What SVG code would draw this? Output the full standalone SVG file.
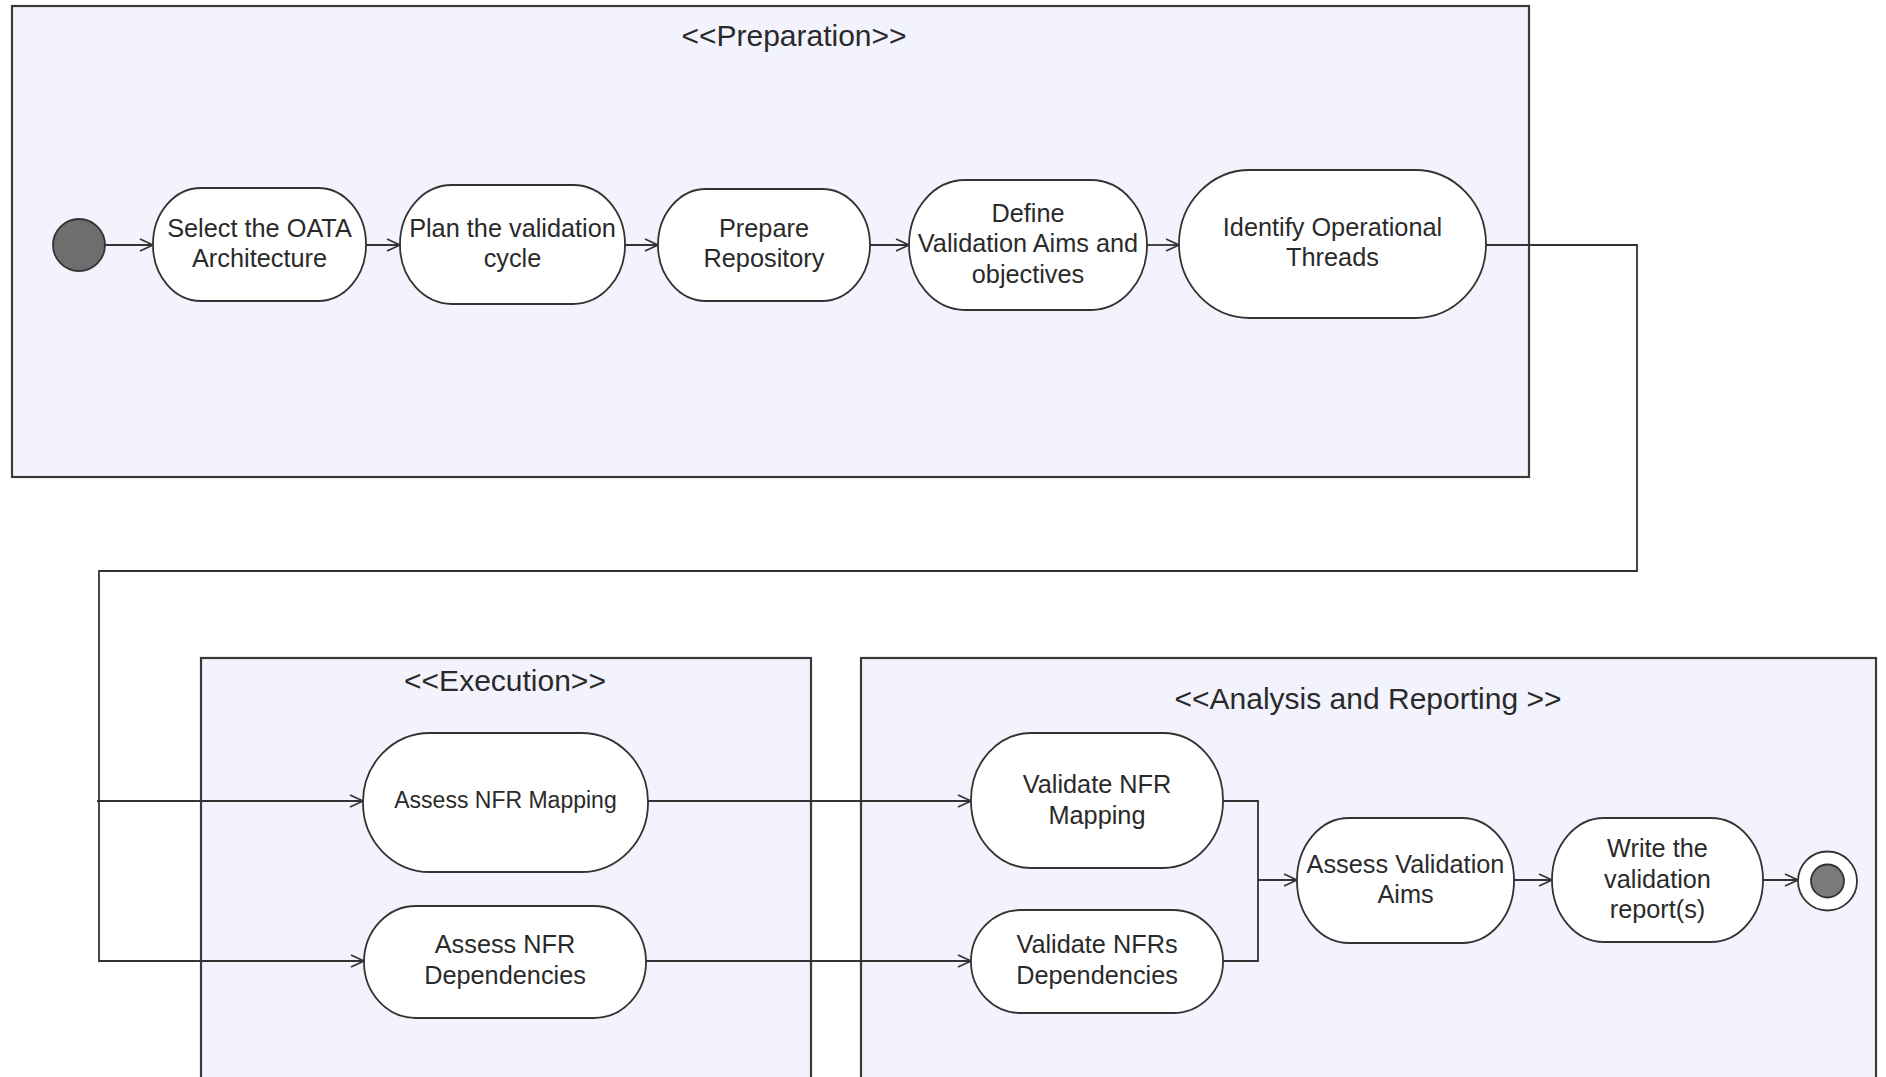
<svg xmlns="http://www.w3.org/2000/svg" width="1886" height="1077" viewBox="0 0 1886 1077">
<style>
.bg{fill:#ffffff}
.part{fill:#f3f3fd;stroke:#3a3a3a;stroke-width:2.2}
.node{fill:#ffffff;stroke:#333333;stroke-width:1.8}
.t{font-family:"Liberation Sans",Arial,sans-serif;font-size:25.3px;fill:#2a2a2a;text-anchor:middle}
.ts{font-size:23px}
.title{font-family:"Liberation Sans",Arial,sans-serif;font-size:30px;fill:#2a2a2a;text-anchor:middle}
.c{fill:none;stroke:#333333;stroke-width:1.8}
</style>
<defs>
<marker id="arr" markerUnits="userSpaceOnUse" markerWidth="16" markerHeight="14" refX="14" refY="7" orient="auto">
<path d="M1,1 L14,7 L1,13" fill="none" stroke="#333333" stroke-width="1.8"/>
</marker>
</defs>
<rect class="bg" x="0" y="0" width="1886" height="1077"/>

<g id="part-preparation">
<rect class="part" x="12" y="6" width="1517" height="471"/>
<text class="title" x="794" y="46">&lt;&lt;Preparation&gt;&gt;</text>
</g>
<g id="part-execution">
<rect class="part" x="201" y="658" width="610" height="440"/>
<text class="title" x="505" y="691">&lt;&lt;Execution&gt;&gt;</text>
</g>
<g id="part-analysis">
<rect class="part" x="861" y="658" width="1015" height="440"/>
<text class="title" x="1368" y="709">&lt;&lt;Analysis and Reporting &gt;&gt;</text>
</g>

<g id="connectors">
<line class="c" x1="105" y1="245" x2="153" y2="245" marker-end="url(#arr)"/>
<line class="c" x1="366" y1="245" x2="400" y2="245" marker-end="url(#arr)"/>
<line class="c" x1="625" y1="245" x2="658" y2="245" marker-end="url(#arr)"/>
<line class="c" x1="870" y1="245" x2="909" y2="245" marker-end="url(#arr)"/>
<line class="c" x1="1147" y1="245" x2="1179" y2="245" marker-end="url(#arr)"/>
<polyline class="c" points="1486,245 1637,245 1637,571 99,571 99,961 364,961" marker-end="url(#arr)"/>
<line class="c" x1="97" y1="801" x2="363" y2="801" marker-end="url(#arr)"/>
<line class="c" x1="648" y1="801" x2="971" y2="801" marker-end="url(#arr)"/>
<line class="c" x1="646" y1="961" x2="971" y2="961" marker-end="url(#arr)"/>
<polyline class="c" points="1223,801 1258,801 1258,961 1223,961"/>
<line class="c" x1="1258" y1="880" x2="1297" y2="880" marker-end="url(#arr)"/>
<line class="c" x1="1514" y1="880" x2="1552" y2="880" marker-end="url(#arr)"/>
<line class="c" x1="1763" y1="880" x2="1798" y2="880" marker-end="url(#arr)"/>
</g>

<g id="initial">
<circle cx="79" cy="245" r="26" fill="#6e6e6e" stroke="#333333" stroke-width="1.8"/>
</g>
<g id="n-select">
<rect class="node" x="153" y="188" width="213" height="113" rx="48" ry="56"/>
<text class="t" x="259.5" y="237">Select the OATA</text>
<text class="t" x="259.5" y="267">Architecture</text>
</g>
<g id="n-plan">
<rect class="node" x="400" y="185" width="225" height="119" rx="52" ry="59"/>
<text class="t" x="512.5" y="237">Plan the validation</text>
<text class="t" x="512.5" y="267">cycle</text>
</g>
<g id="n-prepare">
<rect class="node" x="658" y="189" width="212" height="112" rx="48" ry="56"/>
<text class="t" x="764" y="237">Prepare</text>
<text class="t" x="764" y="267">Repository</text>
</g>
<g id="n-define">
<rect class="node" x="909" y="180" width="238" height="130" rx="56" ry="65"/>
<text class="t" x="1028" y="222">Define</text>
<text class="t" x="1028" y="252">Validation Aims and</text>
<text class="t" x="1028" y="283">objectives</text>
</g>
<g id="n-identify">
<rect class="node" x="1179" y="170" width="307" height="148" rx="71" ry="74"/>
<text class="t" x="1332.5" y="236">Identify Operational</text>
<text class="t" x="1332.5" y="266">Threads</text>
</g>
<g id="n-assess-mapping">
<rect class="node" x="363" y="733" width="285" height="139" rx="67" ry="69"/>
<text class="t ts" x="505.5" y="808">Assess NFR Mapping</text>
</g>
<g id="n-assess-deps">
<rect class="node" x="364" y="906" width="282" height="112" rx="52" ry="56"/>
<text class="t" x="505" y="953">Assess NFR</text>
<text class="t" x="505" y="984">Dependencies</text>
</g>
<g id="n-validate-mapping">
<rect class="node" x="971" y="733" width="252" height="135" rx="60" ry="67"/>
<text class="t" x="1097" y="793">Validate NFR</text>
<text class="t" x="1097" y="824">Mapping</text>
</g>
<g id="n-validate-deps">
<rect class="node" x="971" y="910" width="252" height="103" rx="50" ry="51"/>
<text class="t" x="1097" y="953">Validate NFRs</text>
<text class="t" x="1097" y="984">Dependencies</text>
</g>
<g id="n-assess-aims">
<rect class="node" x="1297" y="818" width="217" height="125" rx="52" ry="62"/>
<text class="t" x="1405.5" y="873">Assess Validation</text>
<text class="t" x="1405.5" y="903">Aims</text>
</g>
<g id="n-write">
<rect class="node" x="1552" y="818" width="211" height="124" rx="52" ry="62"/>
<text class="t" x="1657.5" y="857">Write the</text>
<text class="t" x="1657.5" y="888">validation</text>
<text class="t" x="1657.5" y="918">report(s)</text>
</g>
<g id="final">
<circle cx="1827.5" cy="881" r="29.5" fill="#ffffff" stroke="#333333" stroke-width="1.8"/>
<circle cx="1827.5" cy="881" r="16.5" fill="#7a7a7a" stroke="#333333" stroke-width="1.8"/>
</g>
</svg>
